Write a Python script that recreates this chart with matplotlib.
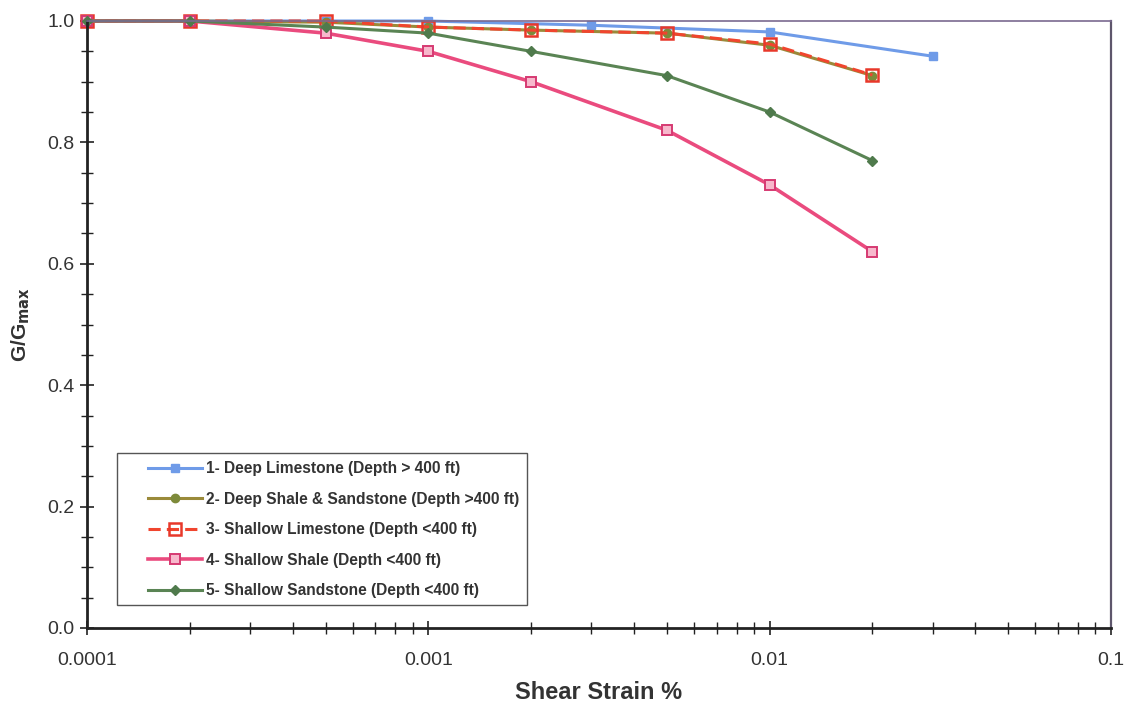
import numpy as np
import matplotlib
matplotlib.use('Agg')
from matplotlib import pyplot as plt
from matplotlib.patches import Rectangle
from matplotlib.ticker import LogLocator, FixedLocator, MultipleLocator, FuncFormatter

plt.rcParams['font.family'] = ['Liberation Sans', 'DejaVu Sans']

# data
strain_1 = [0.0001, 0.0002, 0.0005, 0.001, 0.003, 0.01, 0.03]
deep_limestone = [1.0, 1.0, 1.0, 1.0, 0.993, 0.982, 0.942]

strain_2 = [0.0001, 0.0002, 0.0005, 0.001, 0.002, 0.005, 0.01, 0.02]
deep_shale_sand = [1.0, 1.0, 0.998, 0.99, 0.985, 0.98, 0.96, 0.91]
shallow_limestone = [1.0, 1.0, 1.0, 0.99, 0.985, 0.98, 0.962, 0.911]
shallow_shale = [1.0, 1.0, 0.98, 0.95, 0.90, 0.82, 0.73, 0.62]
shallow_sandstone = [1.0, 1.0, 0.99, 0.98, 0.95, 0.91, 0.85, 0.77]

labels = ['1- Deep Limestone (Depth > 400 ft)',
          '2- Deep Shale & Sandstone (Depth >400 ft)',
          '3- Shallow Limestone (Depth <400 ft)',
          '4- Shallow Shale (Depth <400 ft)',
          '5- Shallow Sandstone (Depth <400 ft)']

W, H = 1129, 703
fig = plt.figure(figsize=(W / 100, H / 100), dpi=100)
ax = fig.add_axes([87 / W, 1 - 628 / H, (1111 - 87) / W, (628 - 21) / H])

ax.plot(strain_1, deep_limestone, color='#6f9be8', lw=2.2, marker='s', ms=6,
        mfc='#6f9be8', mec='#6f9be8', label=labels[0], clip_on=False)
ax.plot(strain_2, deep_shale_sand, color='#9a8a3a', lw=2.2, marker='o', ms=6,
        mfc='#7d8a3a', mec='#7d8a3a', label=labels[1], clip_on=False)
ax.plot(strain_2, shallow_limestone, color='#f0452e', lw=2.2, ls=(0, (4, 2)), marker='s', ms=9,
        mfc='none', mec='#e8382a', mew=1.8, label=labels[2], clip_on=False)
ax.plot(strain_2, shallow_shale, color='#ea4b7e', lw=2.6, marker='s', ms=7,
        mfc='#f7b8cc', mec='#d63a72', mew=1.4, label=labels[3], clip_on=False)
ax.plot(strain_2, shallow_sandstone, color='#5a8454', lw=2.2, marker='D', ms=5,
        mfc='#4f7a4c', mec='#4f7a4c', label=labels[4], clip_on=False)

ax.set_xscale('log')
ax.set_xlim(0.0001, 0.1)
ax.set_ylim(0.0, 1.0)

ax.xaxis.set_major_locator(FixedLocator([0.0001, 0.001, 0.01, 0.1]))
ax.xaxis.set_major_formatter(FuncFormatter(lambda v, p: '%g' % v if v >= 0.001 else '0.0001'))
ax.xaxis.set_minor_locator(LogLocator(base=10, subs=np.arange(2, 10), numticks=20))
ax.xaxis.set_minor_formatter(FuncFormatter(lambda v, p: ''))
ax.yaxis.set_major_locator(MultipleLocator(0.2))
ax.yaxis.set_minor_locator(MultipleLocator(0.05))
ax.yaxis.set_major_formatter(FuncFormatter(lambda v, p: '%.1f' % v))

ax.tick_params(which='both', direction='inout', colors='#222222', labelsize=14)
ax.tick_params(which='major', length=10, width=1.2)
ax.tick_params(which='minor', length=8, width=1.0)
ax.tick_params(axis='x', pad=12, labelcolor='#333333')
ax.tick_params(axis='y', pad=4, labelcolor='#333333')

for side in ['left', 'bottom']:
    ax.spines[side].set_linewidth(2.0)
    ax.spines[side].set_color('#222222')
ax.spines['top'].set_linewidth(1.2)
ax.spines['top'].set_color('#7a6a90')
ax.spines['right'].set_linewidth(1.6)
ax.spines['right'].set_color('#5e566c')

ax.set_xlabel('Shear Strain %', fontsize=17, fontweight='bold', color='#333333', labelpad=9)
ax.set_ylabel('G/G$_{\\mathbf{max}}$', fontsize=15, fontweight='bold', color='#333333', labelpad=11)

# legend: text/handles without frame, frame drawn as a rectangle
leg = ax.legend(loc='upper left', bbox_to_anchor=(148 / W, 1 - 461 / H),
                bbox_transform=fig.transFigure,
                prop={'weight': 'bold', 'size': 11.2}, frameon=False,
                handlelength=3.5, handletextpad=0.25,
                labelspacing=1.0, borderpad=0, borderaxespad=0)
for t in leg.get_texts():
    t.set_color('#333333')
fig.patches.append(Rectangle((117 / W, 1 - 605 / H), (527 - 117) / W, (605 - 453) / H,
                             transform=fig.transFigure, fill=False,
                             edgecolor='#555555', lw=1.0))

fig.savefig('out.png', dpi=100)
